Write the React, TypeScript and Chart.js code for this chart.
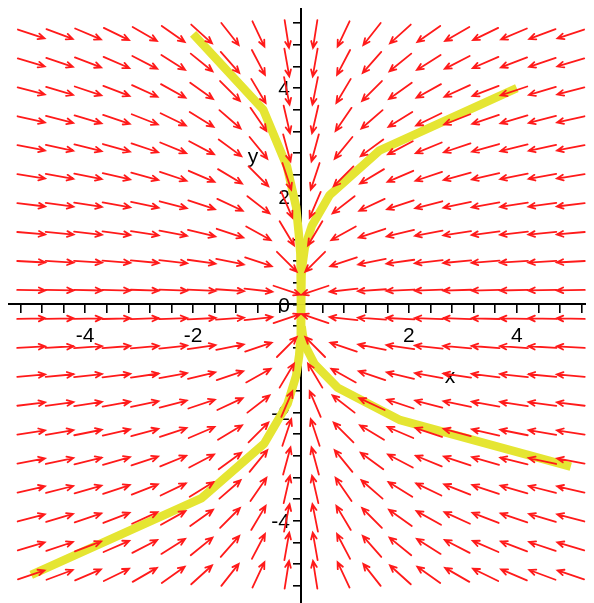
import React, { useEffect, useRef } from "react";
import { Chart, registerables } from "chart.js";

Chart.register(...registerables);

// Axis ranges
const X_MIN = -5.43;
const X_MAX = 5.43;
const Y_MIN = -5.52;
const Y_MAX = 5.48;

// Tick marks every 0.4 on both axes
const TICK_VALUES = [
  -5.2, -4.8, -4.4, -4.0, -3.6, -3.2, -2.8, -2.4, -2.0, -1.6, -1.2, -0.8, -0.4, 0,
  0.4, 0.8, 1.2, 1.6, 2.0, 2.4, 2.8, 3.2, 3.6, 4.0, 4.4, 4.8, 5.2,
];
const X_TICK_LABELS = [-4, -2, 2, 4];
const Y_TICK_LABELS = [-4, -2, 0, 2, 4];

// Direction-field grid (20 x 20) and system x' = -3x, y' = -y
const GRID_X = [
  -5, -4.474, -3.947, -3.421, -2.895, -2.368, -1.842, -1.316, -0.789, -0.263,
  0.263, 0.789, 1.316, 1.842, 2.368, 2.895, 3.421, 3.947, 4.474, 5,
];
const GRID_Y = [
  -5, -4.474, -3.947, -3.421, -2.895, -2.368, -1.842, -1.316, -0.789, -0.263,
  0.263, 0.789, 1.316, 1.842, 2.368, 2.895, 3.421, 3.947, 4.474, 5,
];
const FIELD_X_COEF = -3; // dx/dt = FIELD_X_COEF * x
const FIELD_Y_COEF = -1; // dy/dt = FIELD_Y_COEF * y

// Solution curves
const CURVE_UL_X = [-2.0, -0.7, -0.26, -0.09, -0.04, -0.012, -0.005, -0.002, -0.001, 0];
const CURVE_UL_Y = [5.0, 3.6, 2.55, 1.8, 1.3, 0.94, 0.68, 0.49, 0.35, 0];
const CURVE_UR_X = [4.0, 1.46, 0.53, 0.2, 0.07, 0.03, 0.01, 0.004, 0.001, 0];
const CURVE_UR_Y = [4.0, 2.85, 2.02, 1.45, 1.05, 0.76, 0.54, 0.39, 0.28, 0];
const CURVE_LR_X = [5.0, 1.84, 0.68, 0.25, 0.09, 0.034, 0.012, 0.005, 0.002, 0];
const CURVE_LR_Y = [-3.0, -2.14, -1.54, -1.1, -0.79, -0.57, -0.41, -0.29, -0.21, 0];
const CURVE_LL_X = [-5.0, -1.84, -0.68, -0.25, -0.09, -0.034, -0.012, -0.005, -0.002, 0];
const CURVE_LL_Y = [-5.0, -3.58, -2.57, -1.84, -1.32, -0.94, -0.68, -0.49, -0.35, 0];

const CURVE_COLOR = "#e5e532";
const ARROW_COLOR = "#ff1a1a";
const FONT = '21px "Liberation Sans", Arial, sans-serif';

const toPoints = (xs: number[], ys: number[]) => xs.map((x, i) => ({ x, y: ys[i] }));

const overlayPlugin = {
  id: "overlay",
  beforeDatasetsDraw(chart: any) {
    const ctx = chart.ctx;
    const xs = chart.scales.x;
    const ys = chart.scales.y;
    const ox = xs.getPixelForValue(0);
    const oy = ys.getPixelForValue(0);
    ctx.save();
    ctx.fillStyle = "#000";
    ctx.font = FONT;
    ctx.textBaseline = "middle";
    ctx.textAlign = "center";
    X_TICK_LABELS.forEach((v) => {
      ctx.fillText(String(v), xs.getPixelForValue(v), oy + 32);
    });
    ctx.textAlign = "right";
    Y_TICK_LABELS.forEach((v) => {
      ctx.fillText(String(v), ox - 11, ys.getPixelForValue(v) + 1.5);
    });
    // axis titles
    ctx.textAlign = "center";
    ctx.fillText("x", xs.getPixelForValue(2.76), ys.getPixelForValue(-1.34));
    ctx.fillText("y", xs.getPixelForValue(-0.89), ys.getPixelForValue(2.72));
    ctx.restore();
  },
  afterDatasetsDraw(chart: any) {
    const ctx = chart.ctx;
    const xs = chart.scales.x;
    const ys = chart.scales.y;
    const LEN = 28;
    const HEAD = 7;
    const ANG = (24 * Math.PI) / 180;
    ctx.save();
    ctx.strokeStyle = ARROW_COLOR;
    ctx.lineWidth = 1.8;
    ctx.lineCap = "round";
    GRID_X.forEach((gx) => {
      GRID_Y.forEach((gy) => {
        const u = FIELD_X_COEF * gx;
        const v = FIELD_Y_COEF * gy;
        const h = 0.01;
        const px = xs.getPixelForValue(gx);
        const py = ys.getPixelForValue(gy);
        const dx = xs.getPixelForValue(gx + u * h) - px;
        const dy = ys.getPixelForValue(gy + v * h) - py;
        const n = Math.hypot(dx, dy);
        if (n === 0) return;
        const ux = dx / n;
        const uy = dy / n;
        const x0 = px - (ux * LEN) / 2;
        const y0 = py - (uy * LEN) / 2;
        const x1 = px + (ux * LEN) / 2;
        const y1 = py + (uy * LEN) / 2;
        const a = Math.atan2(uy, ux);
        ctx.beginPath();
        ctx.moveTo(x0, y0);
        ctx.lineTo(x1, y1);
        ctx.moveTo(x1 - HEAD * Math.cos(a - ANG), y1 - HEAD * Math.sin(a - ANG));
        ctx.lineTo(x1, y1);
        ctx.lineTo(x1 - HEAD * Math.cos(a + ANG), y1 - HEAD * Math.sin(a + ANG));
        ctx.stroke();
      });
    });
    ctx.restore();
  },
};

export default function App() {
  const canvasRef = useRef<HTMLCanvasElement | null>(null);

  useEffect(() => {
    if (!canvasRef.current) return;
    const curveDataset = (xs: number[], ys: number[]) => ({
      data: toPoints(xs, ys),
      showLine: true,
      borderColor: CURVE_COLOR,
      backgroundColor: CURVE_COLOR,
      borderWidth: 8.5,
      borderJoinStyle: "bevel" as const,
      borderCapStyle: "butt" as const,
      pointRadius: 0,
      tension: 0,
    });
    const axisCommon = {
      type: "linear" as const,
      grid: {
        drawOnChartArea: false,
        drawTicks: true,
        tickLength: 8,
        color: "#000",
        lineWidth: 1.6,
      },
      border: { display: true, color: "#000", width: 2 },
      ticks: { display: false },
      afterBuildTicks: (scale: any) => {
        scale.ticks = TICK_VALUES.map((value) => ({ value }));
      },
    };
    const chart = new Chart(canvasRef.current, {
      type: "scatter",
      data: {
        datasets: [
          curveDataset(CURVE_UL_X, CURVE_UL_Y),
          curveDataset(CURVE_UR_X, CURVE_UR_Y),
          curveDataset(CURVE_LR_X, CURVE_LR_Y),
          curveDataset(CURVE_LL_X, CURVE_LL_Y),
        ],
      },
      options: {
        responsive: false,
        animation: false,
        events: [],
        layout: { padding: 0 },
        plugins: {
          legend: { display: false },
          tooltip: { enabled: false },
          title: { display: false },
        },
        scales: {
          x: { ...axisCommon, min: X_MIN, max: X_MAX, position: { y: 0 } as any },
          y: {
            ...axisCommon,
            min: Y_MIN,
            max: Y_MAX,
            position: { x: 0 } as any,
            grid: { ...axisCommon.grid, tickLength: 7 },
          },
        },
      },
      plugins: [overlayPlugin],
    });
    return () => chart.destroy();
  }, []);

  return (
    <div style={{ width: 586, height: 595 }}>
      <canvas ref={canvasRef} width={586} height={595} style={{ display: "block" }} />
    </div>
  );
}
